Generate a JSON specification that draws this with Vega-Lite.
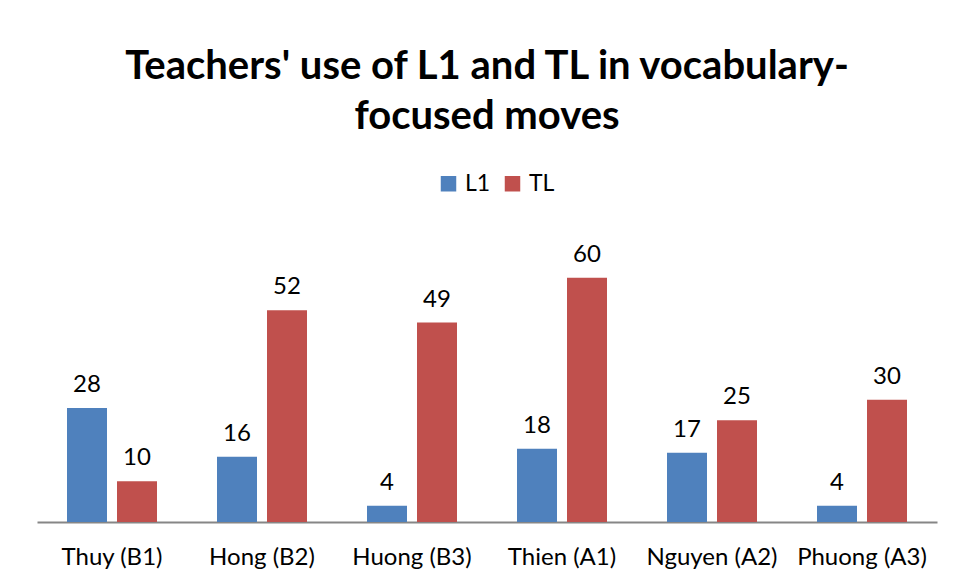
{
  "$schema": "https://vega.github.io/schema/vega-lite/v6.json",
  "width": 900,
  "height": 285,
  "autosize": {"type": "none"},
  "padding": {"left": 37, "top": 237, "right": 20, "bottom": 61},
  "background": "white",
  "title": {
    "text": ["Teachers' use of L1 and TL in vocabulary-", "focused moves"],
    "font": "Lato",
    "fontSize": 40,
    "fontWeight": "bold",
    "color": "#000000",
    "anchor": "middle",
    "frame": "group",
    "lineHeight": 50,
    "offset": 35
  },
  "data": {
    "values": [
      {"teacher": "Thuy (B1)", "lang": "L1", "count": 28},
      {"teacher": "Thuy (B1)", "lang": "TL", "count": 10},
      {"teacher": "Hong (B2)", "lang": "L1", "count": 16},
      {"teacher": "Hong (B2)", "lang": "TL", "count": 52},
      {"teacher": "Huong (B3)", "lang": "L1", "count": 4},
      {"teacher": "Huong (B3)", "lang": "TL", "count": 49},
      {"teacher": "Thien (A1)", "lang": "L1", "count": 18},
      {"teacher": "Thien (A1)", "lang": "TL", "count": 60},
      {"teacher": "Nguyen (A2)", "lang": "L1", "count": 17},
      {"teacher": "Nguyen (A2)", "lang": "TL", "count": 25},
      {"teacher": "Phuong (A3)", "lang": "L1", "count": 4},
      {"teacher": "Phuong (A3)", "lang": "TL", "count": 30}
    ]
  },
  "encoding": {
    "x": {
      "field": "teacher",
      "type": "nominal",
      "sort": null,
      "scale": {"paddingInner": 0.4, "paddingOuter": 0.2},
      "axis": {
        "title": null,
        "labelAngle": 0,
        "labelFont": "Lato",
        "labelFontSize": 24,
        "labelColor": "#000000",
        "labelPadding": 23,
        "ticks": false,
        "domainColor": "#868686",
        "domainWidth": 2
      }
    },
    "xOffset": {
      "field": "lang",
      "type": "nominal",
      "scale": {"paddingInner": 0.2, "paddingOuter": 0}
    },
    "y": {
      "field": "count",
      "type": "quantitative",
      "scale": {"domain": [0, 70]},
      "axis": null
    }
  },
  "layer": [
    {
      "mark": {"type": "bar"},
      "encoding": {
        "color": {
          "field": "lang",
          "type": "nominal",
          "scale": {"domain": ["L1", "TL"], "range": ["#4F81BD", "#C0504D"]},
          "legend": {
            "title": null,
            "orient": "none",
            "legendX": 400,
            "legendY": -65,
            "direction": "horizontal",
            "symbolType": "square",
            "symbolSize": 240,
            "symbolStrokeWidth": 0,
            "labelFont": "Lato",
            "labelFontSize": 23,
            "labelColor": "#000000",
            "columnPadding": 10,
            "labelOffset": 5
          }
        }
      }
    },
    {
      "mark": {
        "type": "text",
        "baseline": "bottom",
        "dy": -11,
        "font": "Lato",
        "fontSize": 24,
        "color": "#000000"
      },
      "encoding": {
        "text": {"field": "count", "type": "quantitative"}
      }
    }
  ],
  "config": {
    "view": {"stroke": null}
  }
}
